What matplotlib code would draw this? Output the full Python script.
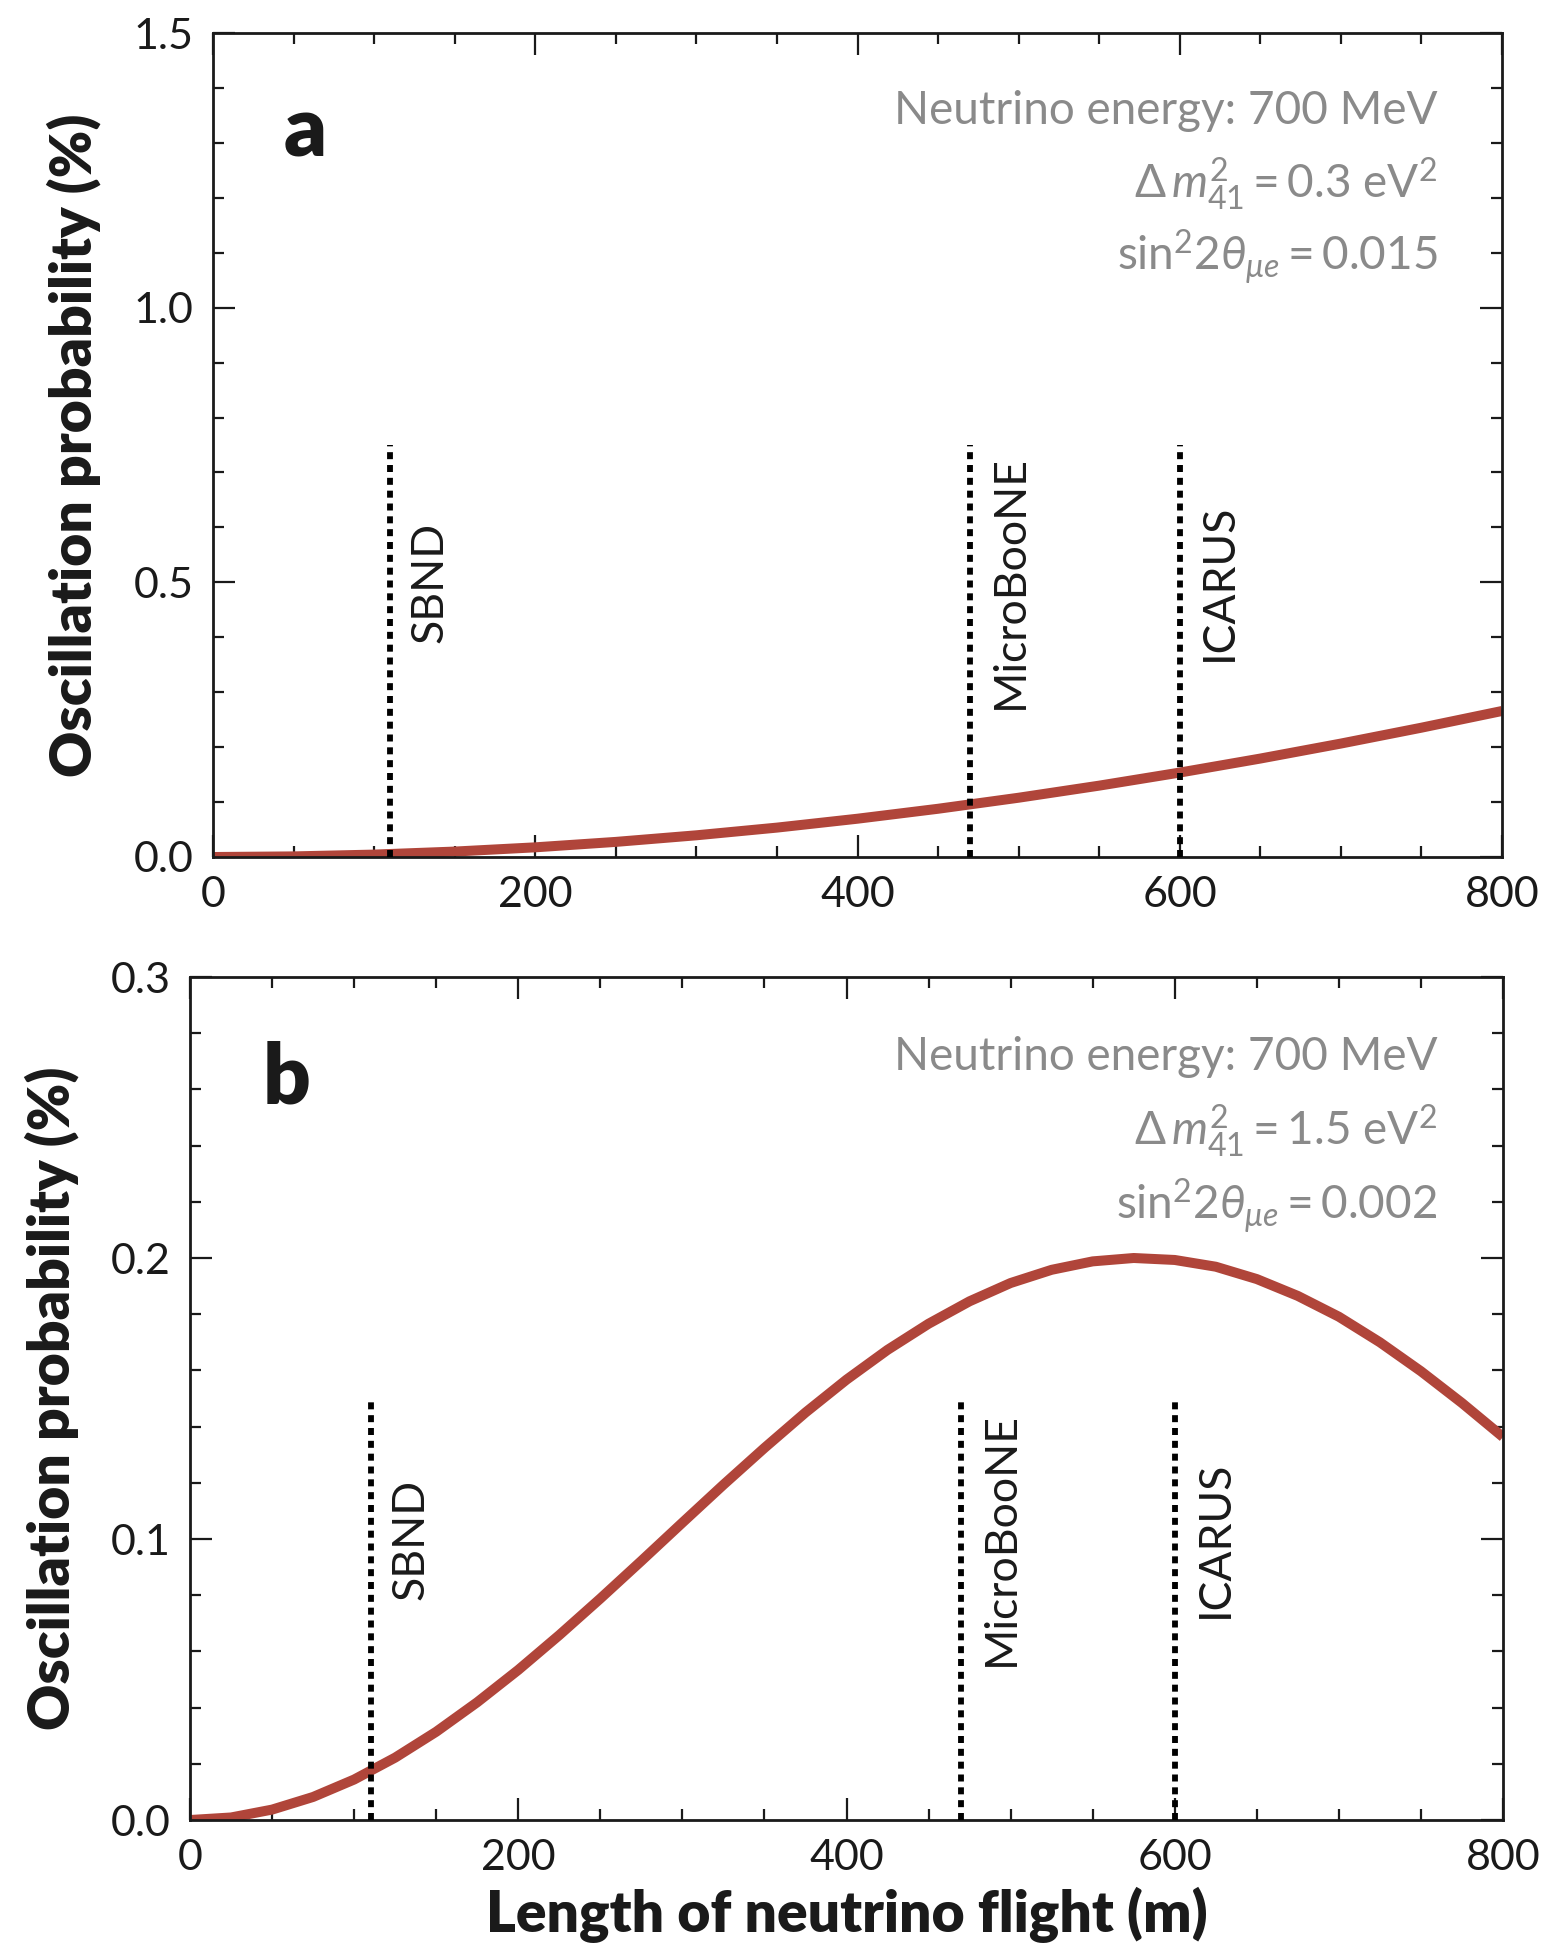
import numpy as np
import matplotlib.pyplot as plt
from matplotlib.ticker import MultipleLocator

plt.switch_backend("Agg")
plt.rcParams["font.family"] = ["Lato", "DejaVu Sans"]
plt.rcParams["mathtext.fontset"] = "custom"
plt.rcParams["mathtext.rm"] = "Lato"
plt.rcParams["mathtext.it"] = "Lato:italic"
plt.rcParams["mathtext.bf"] = "Lato:bold"

# flight length (m) and oscillation probability (%)
L_a = [0, 50, 100, 150, 200, 250, 300, 350, 400, 450, 500, 550, 600, 650, 700, 750, 800]
P_a = [0.0, 0.0011, 0.0044, 0.0099, 0.0176, 0.0275, 0.0395, 0.0535, 0.0697,
       0.0878, 0.1079, 0.1299, 0.1537, 0.1792, 0.2065, 0.2354, 0.2658]

L_b = [0, 25, 50, 75, 100, 125, 150, 175, 200, 225, 250, 275, 300, 325, 350, 375, 400,
       425, 450, 475, 500, 525, 550, 575, 600, 625, 650, 675, 700, 725, 750, 775, 800]
P_b = [0.0, 0.0009, 0.0037, 0.0082, 0.0144, 0.0222, 0.0314, 0.0419, 0.0534, 0.0658,
       0.0788, 0.0922, 0.1058, 0.1193, 0.1324, 0.1450, 0.1567, 0.1673, 0.1766, 0.1846,
       0.1911, 0.1958, 0.1988, 0.2000, 0.1993, 0.1969, 0.1925, 0.1865, 0.1791, 0.1700,
       0.1597, 0.1484, 0.1363]

detectors = ["SBND", "MicroBooNE", "ICARUS"]
det_L = [110, 470, 600]

panels = [
    dict(letter="a", L=L_a, P=P_a, ymax=1.5, ymaj=0.5, ymin=0.1, line_top=0.75, lab_y=0.5,
         dm="0.3", s2="0.015",
         rect=[213 / 1542, 1 - 857 / 1944, 1289 / 1542, 824 / 1944], ylab_x=-0.108),
    dict(letter="b", L=L_b, P=P_b, ymax=0.3, ymaj=0.1, ymin=0.02, line_top=0.15, lab_y=0.1,
         dm="1.5", s2="0.002",
         rect=[190 / 1542, 1 - 1820 / 1944, 1313 / 1542, 843 / 1944], ylab_x=-0.105),
]

RED = "#b0453a"
GREY = "#8a8a8a"
INK = "#1a1a1a"

fig = plt.figure(figsize=(15.42, 19.44), dpi=100)
for i, p in enumerate(panels):
    ax = fig.add_axes(p["rect"])
    ax.plot(p["L"], p["P"], color=RED, lw=7.2, solid_capstyle="butt",
            solid_joinstyle="round", zorder=2)
    for name, x in zip(detectors, det_L):
        ax.plot([x, x], [0, p["line_top"]], color="black", lw=4.2,
                linestyle=(0, (1.2, 1.0)), dash_capstyle="butt", zorder=3)
        ax.text(x + 12, p["lab_y"], name, rotation=90, ha="left", va="center",
                fontsize=32, color=INK)
    ax.set_xlim(0, 800)
    ax.set_ylim(0, p["ymax"])
    ax.xaxis.set_major_locator(MultipleLocator(200))
    ax.xaxis.set_minor_locator(MultipleLocator(50))
    ax.yaxis.set_major_locator(MultipleLocator(p["ymaj"]))
    ax.yaxis.set_minor_locator(MultipleLocator(p["ymin"]))
    ax.yaxis.set_major_formatter(lambda v, _: f"{v:.1f}")
    ax.tick_params(which="both", direction="in", top=True, right=True,
                   labelsize=31, width=1.6, color=INK, labelcolor=INK)
    ax.tick_params(which="major", length=16, pad=14)
    ax.tick_params(which="minor", length=8)
    for s in ax.spines.values():
        s.set_linewidth(2.0)
        s.set_color(INK)
    ax.set_ylabel("Oscillation probability (%)", fontsize=41, fontweight="heavy",
                  color=INK)
    ax.yaxis.set_label_coords(p["ylab_x"], 0.5)
    ax.yaxis.label.set_va("center")
    ax.text(0.055, 0.85, p["letter"], transform=ax.transAxes, fontsize=60,
            fontweight="heavy", color=INK, ha="left", va="baseline")
    ax.text(0.95, 0.905, "Neutrino energy: 700 MeV", transform=ax.transAxes,
            fontsize=33, color=GREY, ha="right", va="center")
    ax.text(0.95, 0.817, r"$\Delta\,m^2_{41} = $" + p["dm"] + r" eV$^2$",
            transform=ax.transAxes, fontsize=33, color=GREY, ha="right", va="center")
    ax.text(0.95, 0.728, r"sin$^2 2\theta_{\mu e} = $" + p["s2"],
            transform=ax.transAxes, fontsize=33, color=GREY, ha="right", va="center")
    if i == 1:
        ax.set_xlabel("Length of neutrino flight (m)", fontsize=41, fontweight="heavy",
                      color=INK)
        ax.xaxis.set_label_coords(0.5, -0.113)
        ax.xaxis.label.set_va("center")

fig.savefig("out.png", dpi=100)
